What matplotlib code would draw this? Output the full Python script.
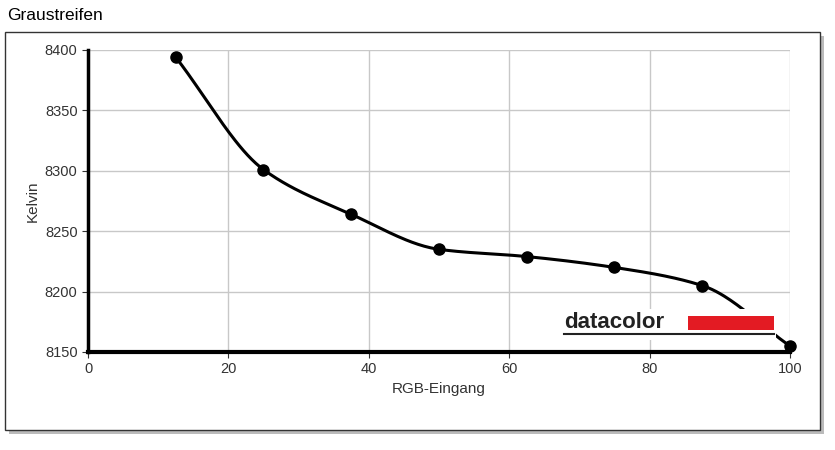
import matplotlib.pyplot as plt
import numpy as np
from matplotlib.patches import Rectangle

plt.rcParams['font.family'] = ['Liberation Sans', 'DejaVu Sans']

rgb = [12.5, 25, 37.5, 50, 62.5, 75, 87.5, 100]
kelvin = [8394, 8301, 8264, 8235, 8229, 8220, 8205, 8155]


def pchip(x, y, xs):
    x = np.asarray(x, float); y = np.asarray(y, float)
    h = np.diff(x); d = np.diff(y) / h
    m = np.zeros_like(y)
    for k in range(1, len(x) - 1):
        if d[k - 1] * d[k] > 0:
            w1 = 2 * h[k] + h[k - 1]; w2 = h[k] + 2 * h[k - 1]
            m[k] = (w1 + w2) / (w1 / d[k - 1] + w2 / d[k])
    m[0] = d[0]; m[-1] = d[-1]
    out = []
    for xv in xs:
        k = min(np.searchsorted(x, xv) - 1, len(x) - 2)
        k = max(k, 0)
        t = (xv - x[k]) / h[k]
        h00 = 2*t**3 - 3*t**2 + 1; h10 = t**3 - 2*t**2 + t
        h01 = -2*t**3 + 3*t**2; h11 = t**3 - t**2
        out.append(h00*y[k] + h10*h[k]*m[k] + h01*y[k+1] + h11*h[k]*m[k+1])
    return np.array(out)


fig = plt.figure(figsize=(8.35, 4.5), dpi=100)
fig.text(0.008, 0.965, 'Graustreifen', fontsize=12.5, va='center', ha='left')
# frame with shadow
fig.patches.append(Rectangle((0.011, 0.035), 0.976, 0.885, transform=fig.transFigure,
                             facecolor='#bbbbbb', edgecolor='none', zorder=0))
fig.patches.append(Rectangle((0.006, 0.045), 0.976, 0.885, transform=fig.transFigure,
                             facecolor='white', edgecolor='#333333', lw=1, zorder=0.5))

ax = fig.add_axes([0.1054, 0.2178, 0.8406, 0.6711])
ax.set_zorder(2)
ax.set_facecolor('none')
xs = np.linspace(12.5, 100, 300)
ax.plot(xs, pchip(rgb, kelvin, xs), color='black', lw=2.2, zorder=3, clip_on=False)
ax.plot(rgb, kelvin, 'o', color='black', ms=8, zorder=7, clip_on=False)
ax.set_xlim(0, 100)
ax.set_ylim(8150, 8400)
ax.set_xticks(range(0, 101, 20))
ax.set_yticks(range(8150, 8401, 50))
ax.grid(color='#c8c8c8', lw=1)
ax.set_axisbelow(True)
for s in ['top', 'right']:
    ax.spines[s].set_visible(False)
ax.spines['left'].set_linewidth(2.5)
ax.spines['bottom'].set_linewidth(3)
ax.tick_params(labelsize=10.5, colors='#333333', length=4)
ax.set_xlabel('RGB-Eingang', fontsize=11, color='#333333')
ax.set_ylabel('Kelvin', fontsize=11, color='#333333')

# logo
ax.add_patch(Rectangle((67.5, 8160), 30.5, 26, facecolor='white', edgecolor='none', zorder=5))
ax.text(67.8, 8174, 'datacolor', fontsize=16, fontweight='bold', color='#222222',
        va='center', ha='left', zorder=6)
ax.add_patch(Rectangle((85.5, 8168), 12.2, 12, facecolor='#e31b23', edgecolor='none', zorder=6))
ax.plot([67.8, 97.8], [8165, 8165], color='#222222', lw=1.5, zorder=6)

fig.savefig('out.png', dpi=100)
